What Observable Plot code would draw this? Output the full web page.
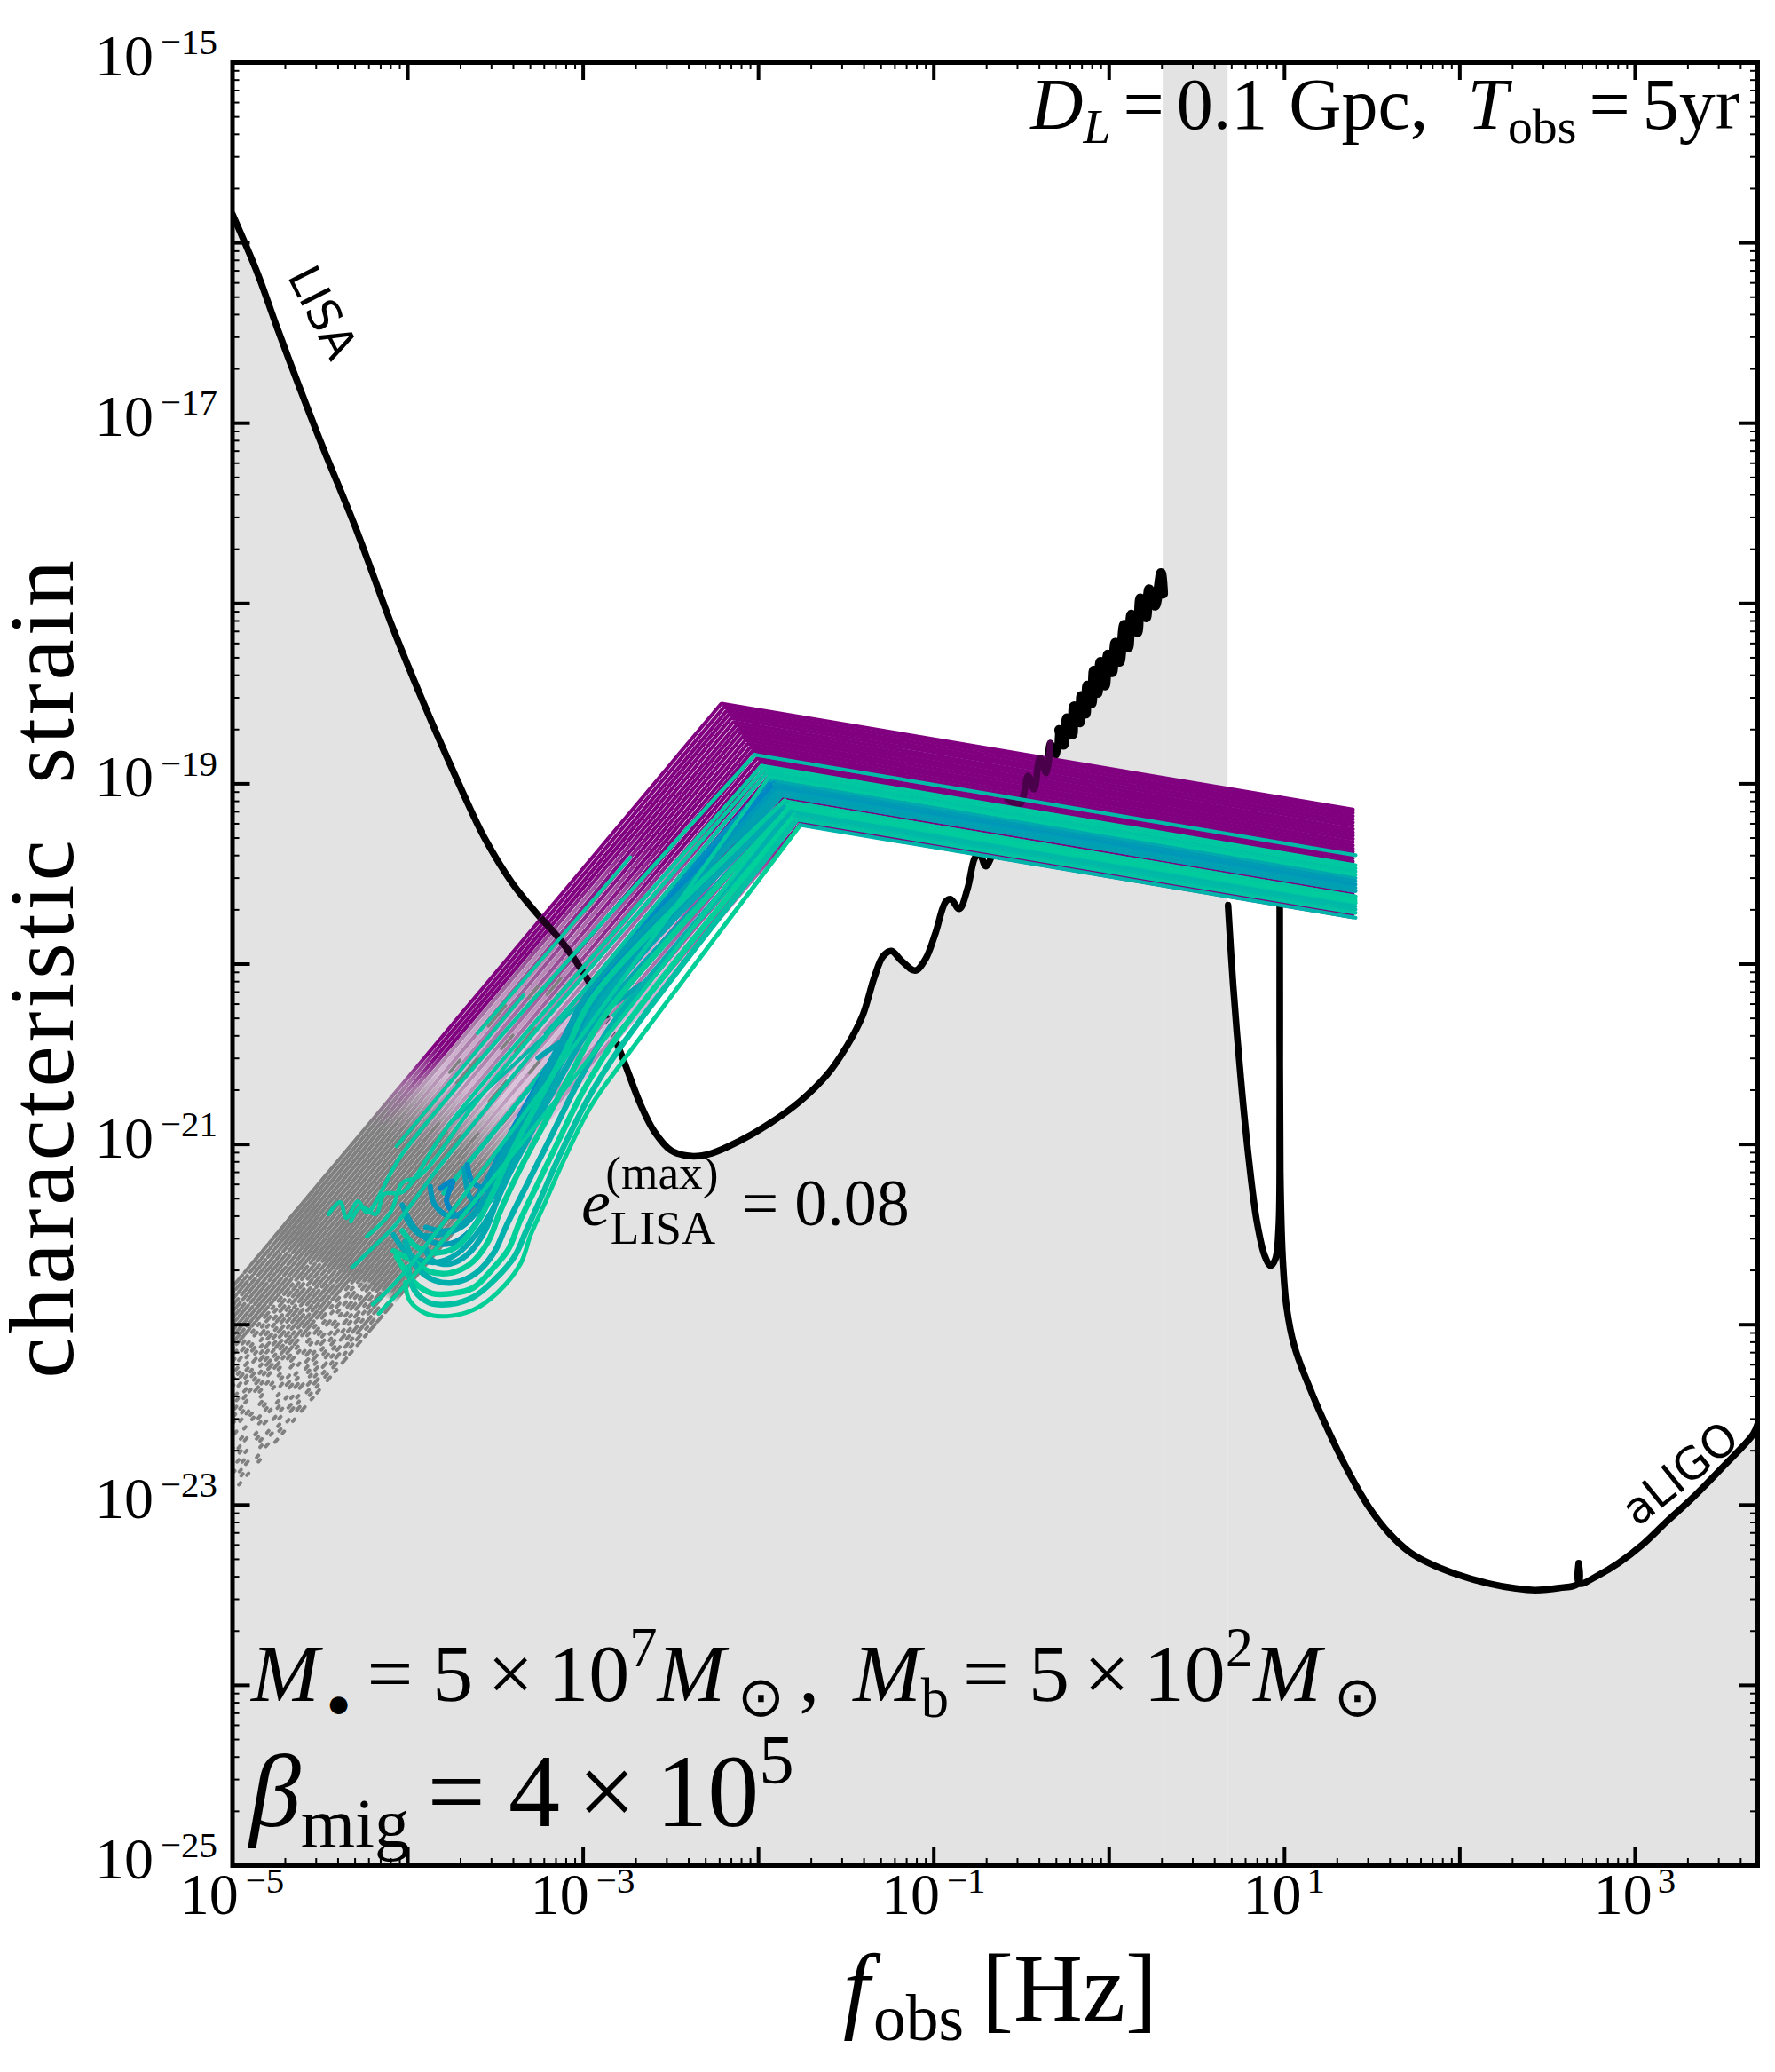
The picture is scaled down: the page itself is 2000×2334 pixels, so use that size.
<!DOCTYPE html>
<html>
<head>
<meta charset="utf-8">
<script src="https://cdn.jsdelivr.net/npm/d3@7"></script>
<script src="https://cdn.jsdelivr.net/npm/@observablehq/plot@0.6"></script>
<style>body{margin:0;background:#fff}</style>
</head>
<body>
<div id="chart"></div>
<script>
// all curve values are log10(f) and log10(h)
const lisaF = [-5,-4.856,-4.742,-4.518,-4.29,-4.10,-3.907,-3.681,-3.563,-3.408,-3.244,-3.137,-2.963,-2.867,-2.770,-2.673,-2.596,-2.499,-2.383,-2.267,-2.112,-1.938,-1.764,-1.609,-1.493,-1.406,-1.339,-1.290,-1.242,-1.184,-1.106,-1.048,-.990,-.932,-.903,-.855,-.807,-.768,-.741,-.704,-.669,-.62,-.579,-.509,-.462,-.428,-.395,-.358,-.336,-.302,-.285,-.260,-.240,-.209,-.201,-.167,-.159,-.134,-.125,-.100,-.088,-.066,-.050,-.024,-.007,.018,.035,.060,.085,.110,.127,.161,.178,.211,.228,.262,.296,.308]
const lisaH = [-15.842,-16.172,-16.480,-17.053,-17.60,-18.10,-18.56,-19.06,-19.30,-19.546,-19.743,-19.858,-20.105,-20.302,-20.532,-20.778,-20.926,-21.033,-21.065,-21.049,-20.983,-20.885,-20.762,-20.614,-20.450,-20.285,-20.072,-19.957,-19.927,-19.982,-20.036,-19.973,-19.826,-19.653,-19.640,-19.694,-19.579,-19.415,-19.383,-19.457,-19.399,-19.25,-19.087,-19.112,-18.956,-19.030,-18.857,-18.940,-18.775,-18.841,-18.701,-18.784,-18.636,-18.726,-18.570,-18.660,-18.513,-18.611,-18.455,-18.554,-18.373,-18.496,-18.324,-18.455,-18.283,-18.381,-18.217,-18.324,-18.118,-18.242,-18.061,-18.160,-17.971,-18.077,-17.921,-18.012,-17.831,-17.946]

const ligoF = [.678,.707,.752,.797,.843,.888,.921,.948,.967,.973,.973,.976,.989,1.012,1.057,1.147,1.260,1.372,1.485,1.598,1.711,1.823,1.981,2.162,2.319,2.432,2.567,2.676,2.678,2.680,2.793,2.906,3.041,3.176,3.334,3.492,3.672,3.699]
const ligoH = [-19.673,-20.113,-20.647,-21.086,-21.431,-21.620,-21.673,-21.636,-21.463,-20.835,-19.579,-21.149,-21.620,-21.902,-22.122,-22.358,-22.609,-22.829,-23.017,-23.158,-23.259,-23.322,-23.384,-23.435,-23.463,-23.472,-23.460,-23.435,-23.322,-23.435,-23.388,-23.322,-23.221,-23.096,-22.954,-22.797,-22.609,-22.55]

// the gap between the two detectors is shaded all the way up
const gapF = [.308,.678]

// purple inspiral tracks: low end on the axis, the kink, and the right end
const trackLowH = [-21.79,-21.825,-21.859,-21.894,-21.928,-21.963,-21.997,-22.032,-22.066,-22.101,-22.135,-22.170,-22.204,-22.239,-22.273,-22.308,-22.342,-22.377,-22.411,-22.446,-22.480,-22.515,-22.549,-22.584,-22.618,-22.653,-22.687,-22.722,-22.756,-22.791,-22.825,-22.860,-22.894,-22.929]
const trackKinkF = [-2.212,-2.197,-2.183,-2.170,-2.156,-2.143,-2.129,-2.116,-2.102,-2.089,-2.075,-2.062,-2.048,-2.035,-2.021,-2.008,-1.994,-1.981,-1.967,-1.954,-1.940,-1.927,-1.913,-1.900,-1.886,-1.873,-1.859,-1.846,-1.832,-1.819,-1.805,-1.792,-1.778,-1.765]
const trackKinkH = [-18.555,-18.575,-18.596,-18.616,-18.636,-18.657,-18.677,-18.697,-18.717,-18.738,-18.758,-18.778,-18.799,-18.819,-18.839,-18.860,-18.880,-18.900,-18.921,-18.941,-18.961,-18.982,-19.002,-19.022,-19.042,-19.063,-19.083,-19.103,-19.124,-19.144,-19.164,-19.185,-19.205,-19.225]
const trackEndH = [-19.143,-19.161,-19.179,-19.197,-19.215,-19.233,-19.252,-19.270,-19.288,-19.306,-19.324,-19.342,-19.360,-19.378,-19.396,-19.414,-19.432,-19.451,-19.469,-19.487,-19.505,-19.523,-19.541,-19.559,-19.577,-19.595,-19.613,-19.631,-19.650,-19.668,-19.686,-19.704,-19.722,-19.740]
const trackEndF = 1.39

// teal tracks with the hooks at low frequency, blue ones drawn first
const tealLowF = [
  [-3.678,-3.644,-3.560,-3.476,-3.409,-3.257,-3.072,-2.904],
  [-4.032,-3.964,-3.863,-3.762,-3.644,-3.543,-3.459,-3.291,-3.106],
  [-4.082,-4.015,-3.931,-3.830,-3.712,-3.611,-3.526,-3.409,-3.240,-3.055,-2.870],
  [-3.661,-3.627,-3.560,-3.493,-3.442,-3.308,-3.122,-2.954],
  [-3.813,-3.745,-3.779,-3.712,-3.627,-3.543,-3.476,-3.341,-3.139,-2.971],
  [-3.872,-3.846,-3.762,-3.661,-3.560,-3.493,-3.375,-3.173,-3.005],
  [-3.897,-3.779,-3.661,-3.560,-3.493,-3.409,-3.257,-3.089],
  [-4.015,-3.931,-3.813,-3.695,-3.594,-3.510,-3.442,-3.291,-3.122,-2.954],
  [-4.032,-3.947,-3.830,-3.712,-3.594,-3.518,-3.442,-3.358,-3.257,-3.089,-2.937],
  [-3.897,-3.863,-3.762,-3.661,-3.560,-3.493,-3.426,-3.325,-3.240,-3.072,-2.904],
  [-4.082,-3.981,-3.880,-3.762,-3.644,-3.543,-3.476,-3.409,-3.325,-3.223,-3.055,-2.870],
  [-4.015,-3.947,-3.846,-3.728,-3.611,-3.510,-3.442,-3.358,-3.274,-3.190,-3.021,-2.836],
  [-4.065,-3.964,-3.863,-3.745,-3.627,-3.510,-3.426,-3.358,-3.257,-3.156,-2.988,-2.803],
  [-3.998,-3.964,-3.880,-3.762,-3.627,-3.510,-3.392,-3.325,-3.240,-3.139,-2.971,-2.786],
  [-4.015,-3.989,-3.897,-3.779,-3.627,-3.493,-3.358,-3.299,-3.223,-3.122,-2.954,-2.752],
  [-4.452,-4.385,-4.351,-4.284,-4.234,-4.015],
  [-4.326,-4.267,-4.183,-4.133,-4.032,-3.762],
  [-4.234,-4.099,-4.032,-3.931,-3.594],
  [-4.318,-4.166,-4.082,-3.762],
  [-4.200,-4.032],
  [-4.166,-3.964]
]
const tealLowH = [
  [-21.132,-21.295,-21.336,-21.214,-21.071,-20.785,-20.459,-20.173],
  [-21.336,-21.459,-21.540,-21.551,-21.479,-21.316,-21.132,-20.806,-20.479],
  [-21.50,-21.591,-21.642,-21.653,-21.602,-21.50,-21.377,-21.132,-20.806,-20.500,-20.234],
  [-21.112,-21.214,-21.234,-21.153,-21.030,-20.785,-20.438,-20.132],
  [-21.244,-21.204,-21.316,-21.398,-21.336,-21.193,-21.051,-20.806,-20.459,-20.173],
  [-21.234,-21.336,-21.398,-21.357,-21.214,-21.091,-20.887,-20.540,-20.255],
  [-21.459,-21.479,-21.418,-21.295,-21.132,-20.969,-20.683,-20.377],
  [-21.398,-21.50,-21.50,-21.459,-21.357,-21.214,-21.051,-20.765,-20.438,-20.132],
  [-21.479,-21.571,-21.602,-21.561,-21.418,-21.275,-21.112,-20.949,-20.765,-20.459,-20.173],
  [-21.581,-21.642,-21.663,-21.612,-21.479,-21.316,-21.173,-20.989,-20.826,-20.530,-20.214],
  [-21.591,-21.642,-21.704,-21.714,-21.663,-21.540,-21.377,-21.234,-21.071,-20.887,-20.581,-20.275],
  [-21.540,-21.683,-21.755,-21.765,-21.714,-21.602,-21.459,-21.295,-21.132,-20.969,-20.642,-20.336],
  [-21.622,-21.765,-21.826,-21.826,-21.795,-21.683,-21.581,-21.418,-21.214,-21.010,-20.683,-20.398],
  [-21.683,-21.806,-21.877,-21.887,-21.847,-21.755,-21.622,-21.479,-21.295,-21.071,-20.744,-20.459],
  [-21.765,-21.867,-21.938,-21.953,-21.918,-21.826,-21.663,-21.50,-21.336,-21.112,-20.785,-20.510],
  [-21.387,-21.320,-21.408,-21.316,-21.377,-21.030],
  [-21.428,-21.346,-21.387,-21.275,-21.265,-20.887],
  [-21.510,-21.377,-21.214,-21.173,-20.744],
  [-21.683,-21.540,-21.459,-21.051],
  [-21.887,-21.724],
  [-21.938,-21.724]
]
const tealKinkF = [-1.85,-1.873,-1.823,-1.927,-1.913,-1.900,-1.886,-1.873,-1.850,-1.836,-1.823,-1.809,-1.796,-1.783,-1.762,-2.021,-1.981,-1.967,-1.954,-1.940,-1.829]
const tealKinkH = [-19.097,-19.063,-19.137,-18.982,-19.002,-19.022,-19.042,-19.063,-19.097,-19.117,-19.137,-19.158,-19.178,-19.198,-19.229,-18.839,-18.900,-18.921,-18.941,-18.961,-19.127]
const tealEndH = [-19.625,-19.595,-19.662,-19.523,-19.541,-19.559,-19.577,-19.595,-19.625,-19.644,-19.662,-19.680,-19.698,-19.716,-19.743,-19.396,-19.451,-19.469,-19.487,-19.505,-19.652]
const tealColor = ["#00c8a0","#00a0b0","#00c8a0","#00a8b0","#009cb4","#0098b8","#00a0b4","#00a0b0","#00c8a0","#00cc9e","#00c8a0","#00b8a8","#00bca6","#00c4a2","#00b4aa","#00bca6","#00c8a0","#00c8a0","#00c4a2","#00c8a0","#00cc9e"]
const hookColor = ["#00a0b4","#009cb4","#00a8b0","#0090c0","#0088c4","#0098b8","#00a0b4","#00a0b0","#00c89e","#00a8b0","#00cc9a","#00b0ac","#00d09a","#00c0a4","#00d098","#00c8a0","#00c8a0","#00c8a0","#00c4a2","#00c8a0","#00cc9e"]
const hookWidth = [6,6,6,6,6,6,6,6,6.5,6.5,6.5,6.5,6.5,6.5,5,4.5,4.5,4.5,4.5,4.5,4.5]
const tealEndF = 1.405

// short straight teal pieces on the ramp, purple takes over past their top end
const streakF = [[-3.602,-2.731],[-3.215,-2.248],[-3.795,-2.886],[-2.828,-1.938],[-4.065,-3.341],[-3.762,-2.921],[-3.257,-2.668]]
const streakH = [[-20.384,-19.407],[-20.384,-19.333],[-21.27,-20.187],[-20.285,-19.333],[-21.01,-20.173],[-20.887,-20.132],[-20.52,-20.112]]
const streakColor = ["#00c8a0","#00b8a8","#00c4a2","#00c8a0","#00c8a0","#00b8a8","#00a4b0"]
const streakWidth = [4,4,5.5,4,4,4,6]

// low end of the tracks breaks up into dots, sparser towards the bottom
const dashTop = ["3 3 5 2 4 4 8 3 6 2 10 3 9 2 14 3 7 4 12 3 6 2 15 3 9 4 18 3000","4 4 3 2 7 3 5 5 9 2 6 3 12 3 5 2 16 3 8 4 11 2 14 3 20 3000","3 5 4 3 6 2 8 4 5 3 11 2 7 4 10 3 9 2 13 4 8 3 17 2 12 3000","5 3 3 6 4 2 9 3 6 4 13 3 10 2 8 3 15 4 7 2 12 3 19 3000"]
const dashMid = ["3 7 3 12 4 6 3 9 5 8 3 5 7 7 4 5 9 6 5 4 10 5 8 3 12 4 9 3 6 4 14 3 10 3 16 4 12 3000","3 11 4 8 3 6 3 14 6 5 3 9 4 7 8 6 3 5 9 4 6 7 7 3 11 5 8 3 12 4 13 3 9 2 18 3000","4 9 3 15 3 7 5 10 3 6 4 8 3 4 10 7 5 5 6 3 12 6 8 4 7 3 15 4 9 3 11 3 14 3000","3 6 3 10 4 13 3 7 3 9 7 6 3 8 5 5 8 4 3 6 10 3 7 5 11 4 6 3 14 4 10 2 17 3000"]
const dashLow = ["3 16 3 24 3 13 4 19 3 11 3 14 5 17 3 9 3 12 4 10 6 13 3 8 4 7 7 9 3 6 5 8 8 5 3 7 9 4 12 3 7 3000","3 22 3 11 3 17 3 26 4 9 3 15 3 12 6 11 3 7 4 14 5 8 3 10 7 6 4 9 6 7 3 5 10 4 8 6 11 3000","4 13 3 28 3 9 3 18 3 13 5 10 3 16 4 8 3 11 6 9 3 7 5 12 4 6 8 7 3 9 6 4 10 3 13 3000","3 19 3 8 4 21 3 15 3 10 3 19 5 7 3 13 4 9 7 8 3 11 3 6 6 10 5 5 3 8 9 3 12 5 8 3000"]
const dashOffset = [0,2,5,1,4,7,3,6,2,8,1,5,9,3,7,0,11,4,8,2,6,13,1,9,15,5,3,12,7,17,0,10,4,14]

// grey bits left inside the ramp
const bitDash = ["0 260 26 70 18 120 34 3000","0 320 40 110 20 60 24 3000","0 210 22 160 36 90 16 3000","0 380 18 50 30 140 20 3000"]

const xMajor = [1e-5,1e-4,1e-3,1e-2,1e-1,1,10,100,1e3]
const xLabels = [-5,-3,-1,1,3]
const yMajor = [1e-25,1e-24,1e-23,1e-22,1e-21,1e-20,1e-19,1e-18,1e-17,1e-16,1e-15]
const yLabels = [-15,-17,-19,-21,-23,-25]
const minorSteps = [2,3,4,5,6,7,8,9]

const xMinor = xMajor.flatMap(d => minorSteps.map(m => m * d)).filter(d => d <= 5e3)
const yMinor = yMajor.slice(0, -1).flatMap(d => minorSteps.map(m => m * d))

const pts = (F, H) => F.map((f, i) => ({f: 10 ** f, h: 10 ** H[i]}))

const lisa = pts(lisaF, lisaH)
const ligo = pts(ligoF, ligoH)

const W = 2000, H = 2334
const mL = 261.5, mR = 20, mT = 70, mB = 233
const innerW = W - mL - mR, innerH = H - mT - mB

const grey = "#e3e3e3"
const lineOpts = {x: "f", y: "h", stroke: "#000", strokeWidth: 7.5, strokeLinejoin: "round", strokeLinecap: "round", curve: "catmull-rom", clip: true}

const dashFor = k => {
  const set = k < 11 ? dashTop : k < 22 ? dashMid : dashLow
  return set[k % 4]
}

const gradFor = k => `url(#grad${k < 4 ? "A" : k < 16 ? "B" : "C"}${k % 2})`

const trackRows = k => pts([-5, trackKinkF[k], trackEndF], [trackLowH[k], trackKinkH[k], trackEndH[k]])

let chart = Plot.plot({
  width: W,
  height: H,
  marginLeft: mL,
  marginRight: mR,
  marginTop: mT,
  marginBottom: mB,
  style: {background: "#fff"},
  x: {type: "log", domain: [1e-5, 5e3], axis: null},
  y: {type: "log", domain: [1e-25, 1e-15], axis: null},
  marks: [
    Plot.areaY(lisa.concat([{f: 10 ** gapF[0], h: lisa[lisa.length - 1].h}]), {x: "f", y1: 1e-25, y2: "h", fill: grey, curve: "catmull-rom", clip: true}),
    Plot.areaY(ligo, {x: "f", y1: 1e-25, y2: "h", fill: grey, curve: "catmull-rom", clip: true}),
    Plot.rect([gapF], {x1: d => 10 ** d[0], x2: d => 10 ** d[1], y1: 1e-25, y2: 1e-15, fill: grey}),
    Plot.line(lisa, lineOpts),
    Plot.line(lisa.filter(d => d.f > 10 ** -.3), {...lineOpts, strokeWidth: 11}),
    Plot.line(ligo, lineOpts),

    // dotted low ends, then the tracks themselves
    ...trackLowH.map((_, k) => Plot.line(trackRows(k), {x: "f", y: "h", stroke: "#808080", strokeWidth: 4, strokeDasharray: dashFor(k), strokeDashoffset: dashOffset[k], clip: true})),
    ...trackLowH.map((_, k) => Plot.line(trackRows(k), {x: "f", y: "h", stroke: gradFor(k), strokeWidth: 4.2, strokeLinejoin: "miter", clip: true})),
    ...trackLowH.map((_, k) => k % 3 == 1 && k > 6 ? Plot.line(trackRows(k), {x: "f", y: "h", stroke: "#808080", strokeWidth: 3.5, strokeDasharray: bitDash[k % 4], clip: true}) : null),

    // the detector curve shows through the purple
    Plot.line(lisa.filter(d => d.f > 10 ** -3.25 && d.f < 10 ** -2.85), {...lineOpts, stroke: "#1c001c", strokeLinecap: "butt"}),
    Plot.line(lisa.filter(d => d.f > 10 ** -.6 && d.f < 10 ** -.33), {...lineOpts, stroke: "#4a004a"}),

    ...streakF.map((F, i) => Plot.line(pts(F, streakH[i]), {x: "f", y: "h", stroke: streakColor[i], strokeWidth: streakWidth[i], clip: true})),

    ...tealLowF.flatMap((F, i) => [
      Plot.line(pts(F.concat(tealKinkF[i]), tealLowH[i].concat(tealKinkH[i])), {x: "f", y: "h", stroke: hookColor[i], strokeWidth: hookWidth[i], curve: "catmull-rom", clip: true}),
      Plot.line(pts([tealKinkF[i], tealEndF], [tealKinkH[i], tealEndH[i]]), {x: "f", y: "h", stroke: tealColor[i], strokeWidth: 4.2, clip: true})
    ]),

    Plot.text(["LISA"], {x: [10 ** -4.492], y: [10 ** -16.388], text: d => d, rotate: 63, fontSize: 50, fontFamily: "DejaVu Sans", fill: "#000"}),
    Plot.text(["aLIGO"], {x: [10 ** 3.26], y: [10 ** -22.83], text: d => d, rotate: -39, fontSize: 50, fontFamily: "DejaVu Sans", fill: "#000"}),

    // inward ticks on all four sides
    Plot.tickX(xMajor, {x: d => d, insetTop: innerH - 20, strokeWidth: 4, stroke: "#000"}),
    Plot.tickX(xMajor, {x: d => d, insetBottom: innerH - 20, strokeWidth: 4, stroke: "#000"}),
    Plot.tickX(xMinor, {x: d => d, insetTop: innerH - 8, strokeWidth: 2, stroke: "#000"}),
    Plot.tickX(xMinor, {x: d => d, insetBottom: innerH - 8, strokeWidth: 2, stroke: "#000"}),
    Plot.tickY(yMajor, {y: d => d, insetRight: innerW - 20, strokeWidth: 4, stroke: "#000"}),
    Plot.tickY(yMajor, {y: d => d, insetLeft: innerW - 20, strokeWidth: 4, stroke: "#000"}),
    Plot.tickY(yMinor, {y: d => d, insetRight: innerW - 8, strokeWidth: 2, stroke: "#000"}),
    Plot.tickY(yMinor, {y: d => d, insetLeft: innerW - 8, strokeWidth: 2, stroke: "#000"}),
    Plot.frame({stroke: "#000", strokeWidth: 5})
  ]
})

d3.select('#chart').append(() => chart)

const svg = d3.select(chart)
const serif = "'Liberation Serif'"

// colour along a track depends on where it is on the ramp
const defs = svg.append("defs")
const gradient = (id, stops) => {
  const g = defs.append("linearGradient").attr("id", id).attr("gradientUnits", "userSpaceOnUse")
    .attr("x1", -550).attr("y1", 1068).attr("x2", -183).attr("y2", 356)
  stops.forEach(([o, c, a]) => g.append("stop").attr("offset", o).attr("stop-color", c).attr("stop-opacity", a))
}
gradient("gradA0", [[.125, "#808080", 0], [.135, "#808080", 1], [.33, "#808080", 1], [.40, "#a070a0", 1], [.46, "#800080", 1]])
gradient("gradA1", [[.125, "#808080", 0], [.14, "#808080", 1], [.34, "#808080", 1], [.41, "#a878a8", 1], [.48, "#800080", 1]])
gradient("gradB0", [[.125, "#808080", 0], [.135, "#808080", 1], [.33, "#808080", 1], [.42, "#b898b8", 1], [.62, "#9c5c9c", 1], [.75, "#8a208a", 1], [.85, "#800080", 1]])
gradient("gradB1", [[.125, "#808080", 0], [.14, "#808080", 1], [.35, "#808080", 1], [.44, "#d4b8d4", 1], [.65, "#b484b4", 1], [.78, "#a050a0", 1], [.88, "#800080", 1]])
gradient("gradC0", [[.125, "#808080", 0], [.135, "#808080", 1], [.33, "#808080", 1], [.43, "#c0a0c0", 1], [.72, "#a870a8", 1], [.85, "#a050a0", 1], [.95, "#800080", 1]])
gradient("gradC1", [[.125, "#808080", 0], [.14, "#808080", 1], [.35, "#808080", 1], [.45, "#dcc4dc", 1], [.75, "#cfa8cf", 1], [.88, "#b070b0", 1], [.97, "#800080", 1]])

// math labels: each run is one tspan, up is the baseline shift in em
const mathText = (x, y, size, runs, anchor = "start", rotate = 0) => {
  const t = svg.append("text")
    .attr("transform", `translate(${x},${y})` + (rotate ? ` rotate(${rotate})` : ""))
    .attr("text-anchor", anchor)
    .attr("font-family", serif)
    .attr("font-size", size)
    .attr("fill", "#000")
  let shift = 0
  runs.forEach(r => {
    const rise = -(r.up || 0) * size
    t.append("tspan").text(r.t)
      .attr("font-style", r.i ? "italic" : null)
      .attr("font-size", (r.s || 1) * size)
      .attr("letter-spacing", r.ls || null)
      .attr("dx", r.dx || null)
      .attr("dy", rise - shift)
    shift = rise
  })
}

const power = v => [{t: "10"}, {t: "\u2212" + Math.abs(v), s: .62, up: .36, dx: 8}]
const powerX = v => v < 0 ? power(v) : [{t: "10"}, {t: String(v), s: .62, up: .36, dx: 6}]

const sx = chart.scale("x"), sy = chart.scale("y")
xLabels.forEach(v => mathText(sx.apply(10 ** v), 2156, 66, powerX(v), "middle"))
yLabels.forEach(v => mathText(245, sy.apply(10 ** v) + 15, 66, power(v), "end"))

mathText(82, 1090, 104, [{t: "characteristic", ls: 4}, {t: "strain", dx: 60, ls: 4}], "middle", -90)
mathText(1127, 2276, 108, [{t: "f", i: 1}, {t: "obs", s: .68, up: -.2, dx: 4}, {t: "[Hz]", dx: 20}], "middle")

mathText(1960, 145, 82, [
  {t: "D", i: 1}, {t: "L", i: 1, s: .68, up: -.2}, {t: "=", dx: 14}, {t: "0.1", dx: 14}, {t: "Gpc,", dx: 24},
  {t: "T", i: 1, dx: 44}, {t: "obs", s: .68, up: -.2}, {t: "=", dx: 14}, {t: "5yr", dx: 14}
], "end")

mathText(283, 1916, 92, [
  {t: "M", i: 1}, {t: "\u25CF", s: .5, up: -.2, dx: 8}, {t: "=", dx: 18}, {t: "5", dx: 22}, {t: "\u00D7", dx: 16}, {t: "10", dx: 16},
  {t: "7", s: .68, up: .42}, {t: "M", i: 1}, {t: "\u2299", s: .68, up: -.18, dx: 14}, {t: ",", dx: 16},
  {t: "M", i: 1, dx: 38}, {t: "b", s: .68, up: -.2}, {t: "=", dx: 16}, {t: "5", dx: 22}, {t: "\u00D7", dx: 16}, {t: "10", dx: 16},
  {t: "2", s: .68, up: .42}, {t: "M", i: 1}, {t: "\u2299", s: .68, up: -.18, dx: 14}
])

mathText(281, 2057, 116, [
  {t: "\u03B2", i: 1}, {t: "mig", s: .68, up: -.2}, {t: "=", dx: 20}, {t: "4", dx: 26}, {t: "\u00D7", dx: 20}, {t: "10", dx: 23}, {t: "5", s: .68, up: .42}
])

mathText(655, 1380, 74, [
  {t: "e", i: 1}, {t: "LISA", s: .72, up: -.28}, {t: "(max)", s: .72, up: .56, dx: -124}, {t: "=", dx: 26}, {t: "0.08", dx: 18}
])
</script>
</body>
</html>
